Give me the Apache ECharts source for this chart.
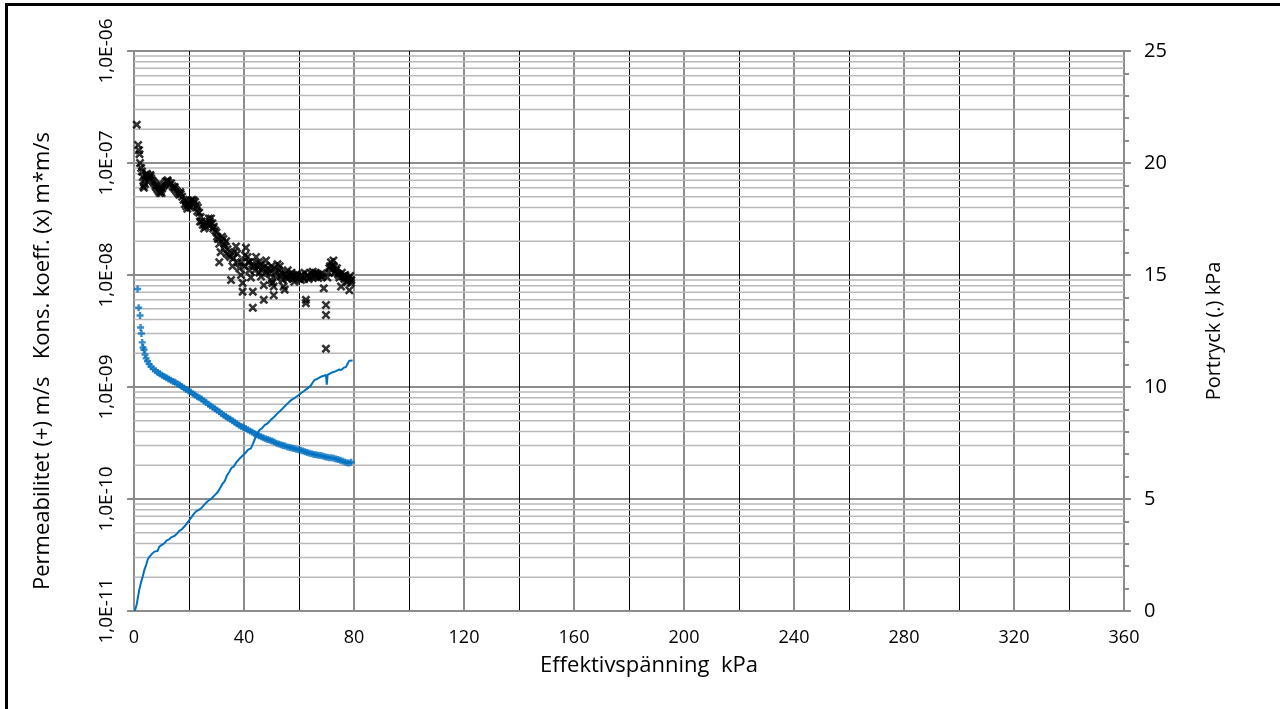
<!DOCTYPE html>
<html>
<head>
<meta charset="utf-8">
<script src="https://cdn.jsdelivr.net/npm/echarts@6/dist/echarts.min.js"></script>
<style>
html,body{margin:0;padding:0;background:#fff;}
#chart{width:1280px;height:709px;}
#frame{position:absolute;top:3px;left:5px;right:0;bottom:0;border-top:3px solid #000;border-left:3px solid #000;pointer-events:none;}
</style>
</head>
<body>
<div id="chart"></div>
<div id="frame"></div>
<script>
// Effective stress (kPa) vs consolidation coefficient (x), m*m/s
const konsKoeff = [
[1.0,2.2e-7],[1.5,1.45e-7],[1.8,1.3e-7],[2.0,1.2e-7],[2.2,1.0e-7],[2.6,9.0e-8],[2.9,8.4e-8],[3.2,7.5e-8],[3.4,6.2e-8],[3.6,6.0e-8],[3.9,7.0e-8],
[4.0,6.5e-8],[4.3,7.6e-8],[4.7,8.0e-8],[5.0,7.8e-8],[5.4,7.4e-8],[5.8,7.6e-8],[6.0,7.8e-8],[6.2,7.3e-8],[6.6,7.0e-8],[7.0,6.8e-8],[7.4,6.6e-8],[7.8,6.2e-8],
[8.0,6.4e-8],[8.2,6.0e-8],[8.6,5.8e-8],[9.0,5.6e-8],[9.4,5.4e-8],[9.8,5.6e-8],[10.0,5.4e-8],[10.2,5.9e-8],[10.6,6.2e-8],[11.0,6.5e-8],[11.5,6.8e-8],[12.0,6.9e-8],
[12.2,7.0e-8],[12.5,6.7e-8],[13.0,6.4e-8],[13.5,6.6e-8],[14.0,6.2e-8],[14.5,6.0e-8],[14.8,6.1e-8],[15.0,5.8e-8],[15.5,5.6e-8],[16.0,5.4e-8],[16.5,5.2e-8],[16.8,5.5e-8],[17.0,5.3e-8],
[17.5,5.0e-8],[18.0,4.7e-8],[18.5,4.3e-8],[18.8,4.6e-8],[19.0,4.1e-8],[19.4,3.9e-8],[19.8,4.2e-8],[20.2,4.4e-8],[20.5,4.0e-8],[20.7,4.6e-8],[21.2,4.7e-8],[21.5,4.3e-8],[21.7,4.6e-8],
[22.2,4.5e-8],[22.7,4.2e-8],[23.0,3.7e-8],[23.2,4.0e-8],[23.7,3.6e-8],[24.0,3.0e-8],[24.2,3.3e-8],[24.6,3.0e-8],[25.0,2.8e-8],[25.5,2.6e-8],[25.8,2.8e-8],[26.0,2.7e-8],[26.5,2.9e-8],
[27.0,2.8e-8],[27.2,3.2e-8],[27.5,3.0e-8],[28.0,3.2e-8],[28.5,2.9e-8],[28.8,2.6e-8],[29.0,2.7e-8],[29.5,2.5e-8],[30.0,2.4e-8],[30.2,2.2e-8],[30.5,2.1e-8],[31.0,1.9e-8],[31.0,1.3e-8],
[31.5,1.6e-8],[32.0,2.2e-8],[32.5,2.1e-8],[32.8,1.9e-8],[33.0,1.8e-8],[33.5,2.0e-8],[33.8,1.55e-8],[34.0,1.7e-8],[34.5,1.5e-8],[35.0,1.45e-8],[35.3,9.0e-9],[35.8,1.2e-8],
[36.0,1.4e-8],[36.4,1.6e-8],[37.1,1.8e-8],[37.5,1.55e-8],[37.7,1.3e-8],[38.3,1.15e-8],[38.9,1.0e-8],[39.0,1.3e-8],[39.5,8.5e-9],[39.5,7.1e-9],[40.1,1.2e-8],[40.4,1.5e-8],[40.7,1.75e-8],[41.3,1.45e-8],
[41.6,1.3e-8],[41.9,1.1e-8],[42.0,1.3e-8],[42.5,9.5e-9],[43.0,1.25e-8],[43.2,7.1e-9],[43.2,5.1e-9],[43.8,1.2e-8],[44.0,1.1e-8],[44.4,1.45e-8],[45.0,1.2e-8],[45.3,1.3e-8],[45.6,1.05e-8],[46.0,1.25e-8],
[46.2,9.7e-9],[46.5,1.1e-8],[46.8,1.15e-8],[47.2,8.1e-9],[47.2,6.0e-9],[47.6,1.2e-8],[48.0,1.35e-8],[48.3,1.05e-8],[48.6,1.15e-8],[49.2,1.03e-8],[49.5,1.1e-8],[49.8,9.0e-9],[50.0,1.2e-8],[50.3,8.5e-9],
[50.8,7.9e-9],[50.8,6.6e-9],[51.0,1.15e-8],[51.5,1.05e-8],[51.8,9.5e-9],[52.2,1.25e-8],[52.8,1.1e-8],[53.0,1.2e-8],[53.5,9.8e-9],[53.8,1.05e-8],[54.0,9.0e-9],[54.4,7.9e-9],[54.8,7.4e-9],[55.0,1.02e-8],[55.3,9.5e-9],
[55.9,1.1e-8],[56.0,9.3e-9],[56.5,1.0e-8],[57.1,9.7e-9],[57.3,1.05e-8],[57.7,9.2e-9],[58.0,1.0e-8],[58.3,8.7e-9],[58.9,9.4e-9],[59.2,1.02e-8],[59.5,9.7e-9],[60.1,9.3e-9],[60.4,9.8e-9],[60.7,9.0e-9],[61.0,1.0e-8],[61.3,9.6e-9],
[61.9,9.2e-9],[62.0,1.05e-8],[62.5,6.0e-9],[62.5,5.6e-9],[63.2,1.0e-8],[63.5,9.2e-9],[63.8,9.5e-9],[64.4,1.03e-8],[64.8,9.6e-9],[65.0,1.07e-8],[65.6,1.0e-8],[66.0,1.05e-8],[66.2,9.7e-9],[66.8,1.02e-8],
[67.0,9.4e-9],[67.4,1.0e-8],[68.0,9.6e-9],[68.2,1.03e-8],[68.5,9.8e-9],[69.0,7.6e-9],[69.8,5.4e-9],[69.8,4.4e-9],[69.8,2.2e-9],[70.3,9.5e-9],[70.8,1.05e-8],[71.0,1.15e-8],[71.3,1.2e-8],[71.6,1.3e-8],
[72.2,1.22e-8],[72.5,1.35e-8],[72.8,1.18e-8],[73.0,1.05e-8],[73.4,1.1e-8],[73.8,1.15e-8],[74.1,1.03e-8],[74.4,1.0e-8],[74.7,9.5e-9],[75.3,7.9e-9],[75.6,1.05e-8],[75.9,9.7e-9],[76.2,9.8e-9],[76.5,9.2e-9],[76.8,1.0e-8],
[77.1,9.5e-9],[77.4,8.6e-9],[77.7,9.0e-9],[78.0,9.3e-9],[78.3,7.3e-9],[78.6,9.8e-9],[78.9,8.5e-9],[79.0,9.0e-9]
];
// Permeability (+), m/s
const permeabilitet = [
[1.3,7.5e-9],[1.7,5.1e-9],[2.2,4.35e-9],[2.4,3.4e-9],[2.7,3.0e-9],[3.0,2.5e-9],[3.3,2.25e-9],[3.6,2.15e-9],[4.0,1.95e-9],[4.4,1.8e-9],
[4.9,1.7e-9],[5.5,1.6e-9],[6.2,1.52e-9],[7.0,1.45e-9],[7.8,1.4e-9],[8.6,1.35e-9],[9.4,1.31e-9],[10.2,1.27e-9],[11.0,1.24e-9],[11.8,1.21e-9],
[12.6,1.18e-9],[13.4,1.15e-9],[14.2,1.12e-9],[15.0,1.1e-9],[15.8,1.07e-9],[16.6,1.04e-9],[17.4,1.01e-9],[18.2,9.8e-10],[19.0,9.5e-10],[19.8,9.2e-10],
[20.6,9.0e-10],[21.4,8.7e-10],[22.2,8.5e-10],[23.0,8.2e-10],[23.8,8.0e-10],[24.6,7.8e-10],[25.4,7.5e-10],[26.2,7.3e-10],[27.0,7.0e-10],[27.8,6.8e-10],
[28.6,6.6e-10],[29.4,6.4e-10],[30.2,6.2e-10],[31.0,6.0e-10],[31.8,5.8e-10],[32.6,5.6e-10],[33.4,5.45e-10],[34.2,5.3e-10],[35.0,5.15e-10],[35.8,5.0e-10],
[36.6,4.85e-10],[37.4,4.7e-10],[38.2,4.55e-10],[39.0,4.45e-10],[39.8,4.35e-10],[40.6,4.25e-10],[41.4,4.15e-10],[42.2,4.05e-10],[43.0,3.95e-10],[43.8,3.85e-10],
[44.6,3.75e-10],[45.4,3.68e-10],[46.2,3.6e-10],[47.0,3.52e-10],[47.8,3.45e-10],[48.6,3.4e-10],[49.4,3.35e-10],[50.2,3.3e-10],[51.0,3.22e-10],[51.8,3.15e-10],
[52.6,3.1e-10],[53.4,3.05e-10],[54.2,3.0e-10],[55.0,2.97e-10],[55.8,2.92e-10],[56.6,2.88e-10],[57.4,2.85e-10],[58.2,2.82e-10],[59.0,2.78e-10],[59.8,2.75e-10],
[60.6,2.72e-10],[61.4,2.68e-10],[62.2,2.64e-10],[63.0,2.6e-10],[63.8,2.56e-10],[64.6,2.53e-10],[65.4,2.5e-10],[66.2,2.48e-10],[67.0,2.46e-10],[67.8,2.44e-10],
[68.6,2.42e-10],[69.4,2.38e-10],[70.2,2.36e-10],[71.0,2.34e-10],[71.8,2.33e-10],[72.6,2.31e-10],[73.4,2.28e-10],[74.2,2.25e-10],[75.0,2.22e-10],[75.8,2.18e-10],
[76.6,2.14e-10],[77.4,2.11e-10],[78.2,2.1e-10],[79.0,2.13e-10]
];
// Pore pressure (.), kPa
const portryck = [
[0.3,0],[1.0,0.3],[1.9,0.94],[2.6,1.3],[3.2,1.55],[3.8,1.85],[4.4,2.05],[5.0,2.3],[5.6,2.42],[6.5,2.55],
[7.4,2.65],[8.0,2.72],[8.6,2.68],[9.2,2.87],[10.1,2.95],[11.0,3.02],[11.9,3.15],[12.8,3.2],[13.7,3.3],[14.7,3.35],
[15.6,3.45],[16.5,3.58],[17.4,3.65],[18.3,3.77],[19.2,3.9],[20.1,4.06],[21.0,4.2],[21.9,4.36],[22.6,4.45],[23.2,4.4],
[24.4,4.58],[25.6,4.75],[26.8,4.9],[28.0,5.0],[29.2,5.15],[30.4,5.3],[31.6,5.55],[32.3,5.7],[33.0,5.8],[33.8,6.05],
[34.7,6.22],[35.5,6.4],[36.3,6.45],[37.1,6.62],[38.0,6.75],[38.8,6.85],[39.5,6.9],[40.5,7.05],[41.5,7.2],[42.5,7.26],
[43.2,7.45],[44.0,7.7],[44.4,7.78],[45.0,7.95],[45.6,8.08],[46.5,8.15],[47.5,8.3],[48.6,8.38],[49.5,8.5],[50.2,8.55],
[51.0,8.67],[52.0,8.8],[52.7,8.82],[53.5,8.97],[54.5,9.1],[55.2,9.15],[55.9,9.27],[57.0,9.4],[58.3,9.5],[59.4,9.6],
[60.7,9.72],[61.8,9.82],[63.2,9.95],[64.2,10.05],[65.0,10.2],[65.6,10.31],[66.5,10.35],[67.2,10.4],[68.0,10.46],[69.0,10.5],
[69.8,10.54],[70.1,10.1],[70.4,10.54],[71.2,10.6],[72.0,10.65],[72.8,10.68],[73.6,10.72],[74.5,10.78],[75.3,10.76],[76.2,10.85],
[77.1,10.9],[77.7,11.05],[78.3,11.17],[79.0,11.2],[79.5,11.18]
];
// Log-axis minor gridline multipliers within each decade
const decadeExponents = [-11,-10,-9,-8,-7];
const minorMultipliers = [2,3,4,5,6,7,8,9];
const xRange = [0, 360];

const minorValues = [];
decadeExponents.forEach(e => minorMultipliers.forEach(m => minorValues.push(m * Math.pow(10, e))));
const minorSeries = minorValues.map(v => ({
  type:'line', yAxisIndex:0, silent:true, symbol:'none', showSymbol:false, z:1,
  data:[[xRange[0], v], [xRange[1], v]],
  lineStyle:{color:'#b8b8b8', width:1.5}
}));

const FONT = 'Open Sans';
const GRAY = '#8c8c8c';
const chart = echarts.init(document.getElementById('chart'), null, {renderer:'canvas'});
chart.setOption({
  animation:false,
  backgroundColor:'#fff',
  textStyle:{fontFamily:FONT,color:'#000'},
  grid:{left:134,right:156,top:51,bottom:98,containLabel:false},
  xAxis:{
    type:'value',min:0,max:360,interval:40,
    name:'Effektivspänning  kPa',nameLocation:'middle',nameGap:44,
    nameTextStyle:{fontFamily:FONT,fontSize:22,color:'#000',padding:[0,0,0,40]},
    axisLine:{show:true,onZero:false,lineStyle:{color:GRAY,width:2}},
    axisTick:{show:false},
    axisLabel:{fontFamily:FONT,fontSize:18,color:'#000',margin:18},
    splitLine:{show:true,lineStyle:{color:GRAY,width:2}},
    minorTick:{show:false,splitNumber:2},
    minorSplitLine:{show:true,lineStyle:{color:'#000',width:1}}
  },
  yAxis:[{
    type:'log',logBase:10,min:1e-11,max:1e-6,
    name:'Permeabilitet (+) m/s   Kons. koeff. (x) m*m/s',nameLocation:'middle',nameGap:80,
    nameTextStyle:{fontFamily:FONT,fontSize:22,color:'#000',padding:[0,60,0,0]},
    axisLine:{show:true,lineStyle:{color:GRAY,width:2}},
    axisTick:{show:true,length:7,lineStyle:{color:GRAY,width:2}},
    axisLabel:{fontFamily:FONT,fontSize:19,color:'#000',rotate:90,margin:18,
      formatter:v=>{const e=Math.round(Math.log10(v));return '1,0E-'+String(-e).padStart(2,'0');}},
    splitLine:{show:true,lineStyle:{color:GRAY,width:2}}
  },{
    type:'value',min:0,max:25,interval:5,position:'right',
    name:'Portryck (.) kPa',nameLocation:'middle',nameGap:80,
    nameTextStyle:{fontFamily:FONT,fontSize:20,color:'#000'},
    axisLine:{show:true,lineStyle:{color:GRAY,width:2}},
    axisTick:{show:true,length:7,lineStyle:{color:GRAY,width:2}},
    minorTick:{show:true,splitNumber:5,length:5,lineStyle:{color:GRAY,width:2}},
    axisLabel:{fontFamily:FONT,fontSize:20,color:'#000',margin:20},
    splitLine:{show:false}
  }],
  series:minorSeries.concat([
    {type:'line',yAxisIndex:1,data:portryck,showSymbol:false,symbol:'none',
     lineStyle:{color:'#0070C0',width:2},z:3},
    {type:'scatter',yAxisIndex:0,data:permeabilitet,
     symbol:'path://M3.3,0H6.7V3.3H10V6.7H6.7V10H3.3V6.7H0V3.3H3.3Z',symbolSize:7,
     itemStyle:{color:'#0070C0'},z:4},
    {type:'scatter',yAxisIndex:0,data:konsKoeff,
     symbol:'path://M0,2L2,0L5,3L8,0L10,2L7,5L10,8L8,10L5,7L2,10L0,8L3,5Z',symbolSize:9,
     itemStyle:{color:'#000'},z:5}
  ])
});
</script>
</body>
</html>
